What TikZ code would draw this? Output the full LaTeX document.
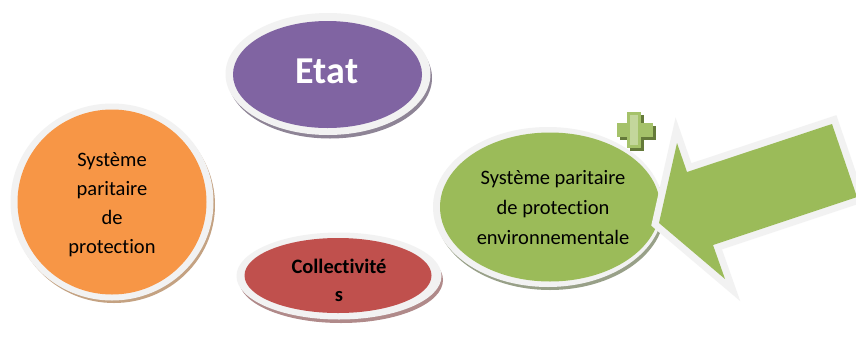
\documentclass[tikz,border=0pt]{standalone}
\usepackage{fontspec}
\setmainfont{Carlito}[Ligatures=NoCommon]
\usetikzlibrary{shapes.geometric}
\definecolor{ring}{HTML}{F2F2F2}
\definecolor{cpurple}{HTML}{8064A2}
\definecolor{corange}{HTML}{F79646}
\definecolor{cred}{HTML}{C0504D}
\definecolor{cgreen}{HTML}{9BBB59}
\definecolor{spurple}{HTML}{8E8496}
\definecolor{sorange}{HTML}{C4A282}
\definecolor{sred}{HTML}{B08A8A}
\definecolor{sgreen}{HTML}{98A088}
\tikzset{
  oval/.style={ellipse, inner sep=0pt, draw=none},
  txt/.style={align=center, inner sep=0pt, font=\fontsize{20.5}{29}\selectfont},
}
\begin{document}
\begin{tikzpicture}[x=1pt,y=-1pt]
\useasboundingbox (0,0) rectangle (856,338);
\fill[white] (0,0) rectangle (856,338);

% ---- Etat
\node[oval, fill=spurple, minimum width=204pt, minimum height=121pt] (etatS) at (330,78) {};
\node[oval, fill=ring, minimum width=205pt, minimum height=122pt] (etatR) at (328,74) {};
\node[oval, fill=cpurple, minimum width=189pt, minimum height=107pt] (etat) at (327.5,74.5) {};
\node[inner sep=0pt, text=white, font=\fontsize{38}{40}\selectfont\bfseries] (etatT) at (327,71) {Etat};

% ---- Orange
\node[oval, fill=sorange, minimum width=202pt, minimum height=196pt] (orS) at (114,205) {};
\node[oval, fill=ring, minimum width=203pt, minimum height=197pt] (orR) at (112,202) {};
\node[oval, fill=corange, minimum width=189pt, minimum height=185pt] (or) at (112,202) {};
\node[txt] (orT) at (112,205) {Système\\paritaire\\de\\protection};

% ---- Collectivites
\node[oval, fill=sred, minimum width=204pt, minimum height=86pt] (collS) at (341,280) {};
\node[oval, fill=ring, minimum width=205pt, minimum height=87pt] (collR) at (339,276) {};
\node[oval, fill=cred, minimum width=187pt, minimum height=75pt] (coll) at (338,275.5) {};
\node[txt, font=\fontsize{20.5}{28}\selectfont\bfseries] (collT) at (339,280) {Collectivité\\s};

% ---- Green ellipse
\node[oval, fill=sgreen, minimum width=229pt, minimum height=158pt] (grS) at (550,211) {};
\node[oval, fill=ring, minimum width=230pt, minimum height=160pt] (grR) at (548,207) {};
\node[oval, fill=cgreen, minimum width=220pt, minimum height=149pt] (gr) at (550,207) {};
\begin{scope}
\clip (440,140) rectangle (630,270);
\node[txt, font=\fontsize{20.5}{30}\selectfont] (grT) at (553,208) {Système paritaire\\de protection\\environnementale};
\end{scope}

% ---- Plus sign
\fill[cgreen!65!black] (630,115) rectangle (644,151);
\fill[cgreen!65!black] (620,126) rectangle (656,140);
\fill[cgreen!90!white] (627,112) rectangle (641,148);
\fill[cgreen!90!white] (617,123) rectangle (653,137);
\fill[cgreen!60!white] (630,115) rectangle (638,145);

% ---- Arrow
\coordinate (tip) at (659,223);
\coordinate (bt) at (677,143);
\coordinate (bj) at (687,172);
\coordinate (sa) at (832,124);
\coordinate (sb) at (857,197);
\coordinate (sc) at (713,245);
\coordinate (bb) at (725,279);
\fill[sgreen] ([shift={(2,5)}]tip) -- ([shift={(2,5)}]bt) -- ([shift={(2,5)}]bj) -- ([shift={(2,5)}]sa) -- ([shift={(2,5)}]sb) -- ([shift={(2,5)}]sc) -- ([shift={(2,5)}]bb) -- cycle;
\draw[ring, line width=14pt, line join=miter, miter limit=10] (tip) -- (bt) -- (bj) -- (sa) -- (sb) -- (sc) -- (bb) -- cycle;
\fill[cgreen] (tip) -- (bt) -- (bj) -- (sa) -- (sb) -- (sc) -- (bb) -- cycle;
\end{tikzpicture}
\end{document}
